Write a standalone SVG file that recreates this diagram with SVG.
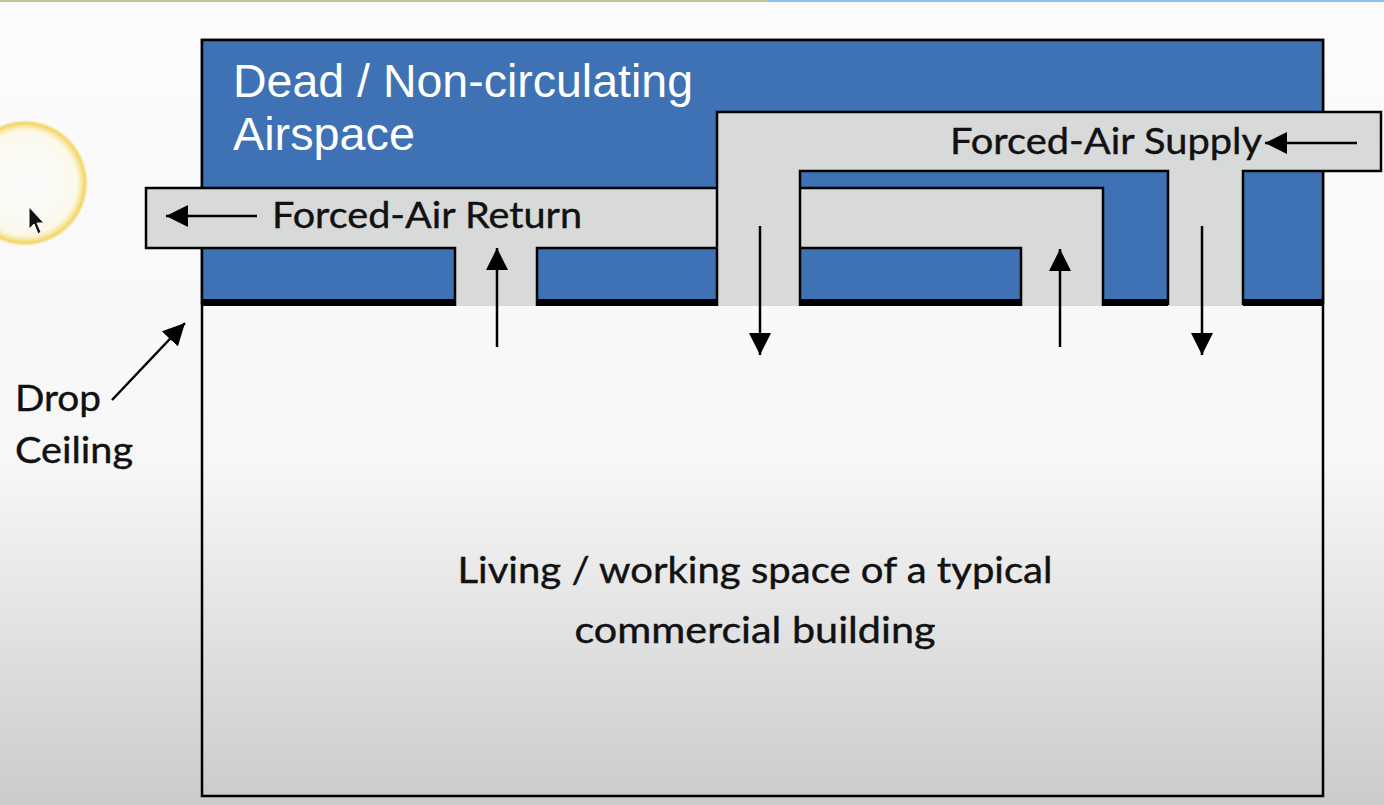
<svg xmlns="http://www.w3.org/2000/svg" width="1384" height="805" viewBox="0 0 1384 805">
<defs>
<linearGradient id="bg" x1="0" y1="0" x2="0" y2="1">
<stop offset="0" stop-color="#fbfcfb"/>
<stop offset="0.58" stop-color="#f6f7f6"/>
<stop offset="1" stop-color="#cbcbcb"/>
</linearGradient>
<radialGradient id="glow" cx="0.5" cy="0.5" r="0.5">
<stop offset="0" stop-color="#ffffff" stop-opacity="0"/>
<stop offset="0.82" stop-color="#fdf8e0" stop-opacity="0.6"/>
<stop offset="0.95" stop-color="#f3d45a" stop-opacity="0.95"/>
<stop offset="1" stop-color="#f0cf50" stop-opacity="0"/>
</radialGradient>
<marker id="ah" markerWidth="22" markerHeight="22" refX="22" refY="11" orient="auto" markerUnits="userSpaceOnUse">
<path d="M0,0 L22,11 L0,22 z" fill="#000"/>
</marker>
<style>
.duct{fill:#d8d9d9;stroke:none}
.edge{fill:none;stroke:#000;stroke-width:2.5;stroke-linejoin:miter}
.arr{stroke:#000;stroke-width:2.5;fill:none;marker-end:url(#ah)}
.lbl{font-family:Lato,"Open Sans",sans-serif;font-size:37px;fill:#111;stroke:#111;stroke-width:0.4}
.big{font-family:"Liberation Sans",Arial,sans-serif;font-size:46px;fill:#ffffff}
</style>
</defs>
<rect x="0" y="0" width="1384" height="805" fill="url(#bg)"/>
<rect x="0" y="0" width="768" height="2" fill="#c9c39a"/>
<rect x="768" y="0" width="616" height="2" fill="#8fc1ea"/>

<g id="room">
<rect x="202" y="40" width="1121" height="756" fill="none" stroke="#000" stroke-width="2.5"/>
</g>
<g id="airspace">
<rect x="202" y="40" width="1121" height="263" fill="#3e72b5" stroke="#000" stroke-width="2.5"/>
<rect x="202" y="299" width="1122" height="7" fill="#000"/>
<text class="big" x="233" y="97" textLength="460" lengthAdjust="spacingAndGlyphs">Dead / Non-circulating</text>
<text class="big" x="233" y="150" textLength="182" lengthAdjust="spacingAndGlyphs">Airspace</text>
</g>

<g id="return-duct">
<path class="duct" d="M146,188 H1103 V306 H1021 V248 H537 V306 H455 V248 H146 Z"/>
<path class="edge" d="M455,306 V248 H146 V188 H1103 V306 M1021,306 V248 H537 V306"/>
<text class="lbl" x="272" y="228" textLength="310" lengthAdjust="spacingAndGlyphs">Forced-Air Return</text>
</g>

<g id="supply-duct">
<path class="duct" d="M717,112 H1381 V171 H1243 V306 H1168 V171 H800 V306 H717 Z"/>
<path class="edge" d="M717,306 V112 H1381 V171 H1243 V305 M1168,305 V171 H800 V306"/>
<text class="lbl" x="950" y="154" textLength="312" lengthAdjust="spacingAndGlyphs">Forced-Air Supply</text>
</g>

<g id="living-space">
<text class="lbl" x="755" y="583" text-anchor="middle" textLength="595" lengthAdjust="spacingAndGlyphs">Living / working space of a typical</text>
<text class="lbl" x="755" y="643" text-anchor="middle" textLength="361" lengthAdjust="spacingAndGlyphs">commercial building</text>
</g>

<g id="drop-ceiling">
<text class="lbl" x="15" y="411" textLength="86" lengthAdjust="spacingAndGlyphs">Drop</text>
<text class="lbl" x="15" y="463" textLength="118" lengthAdjust="spacingAndGlyphs">Ceiling</text>
</g>

<g id="connectors">
<line class="arr" x1="257" y1="216" x2="166" y2="216"/>
<line class="arr" x1="497" y1="347" x2="497" y2="248"/>
<line class="arr" x1="1060" y1="347" x2="1060" y2="249"/>
<line class="arr" x1="760" y1="226" x2="760" y2="355"/>
<line class="arr" x1="1202" y1="226" x2="1202" y2="355"/>
<line class="arr" x1="1357" y1="143" x2="1265" y2="143"/>
<line class="arr" x1="112" y1="400" x2="185" y2="323"/>
</g>

<g id="pointer">
<circle cx="25" cy="183" r="63" fill="url(#glow)"/>
<path d="M29,207 L29,229 L34,224 L38,234 L41,232 L37,223 L44,223 Z" fill="#111" stroke="#fff" stroke-width="1"/>
</g>
</svg>
